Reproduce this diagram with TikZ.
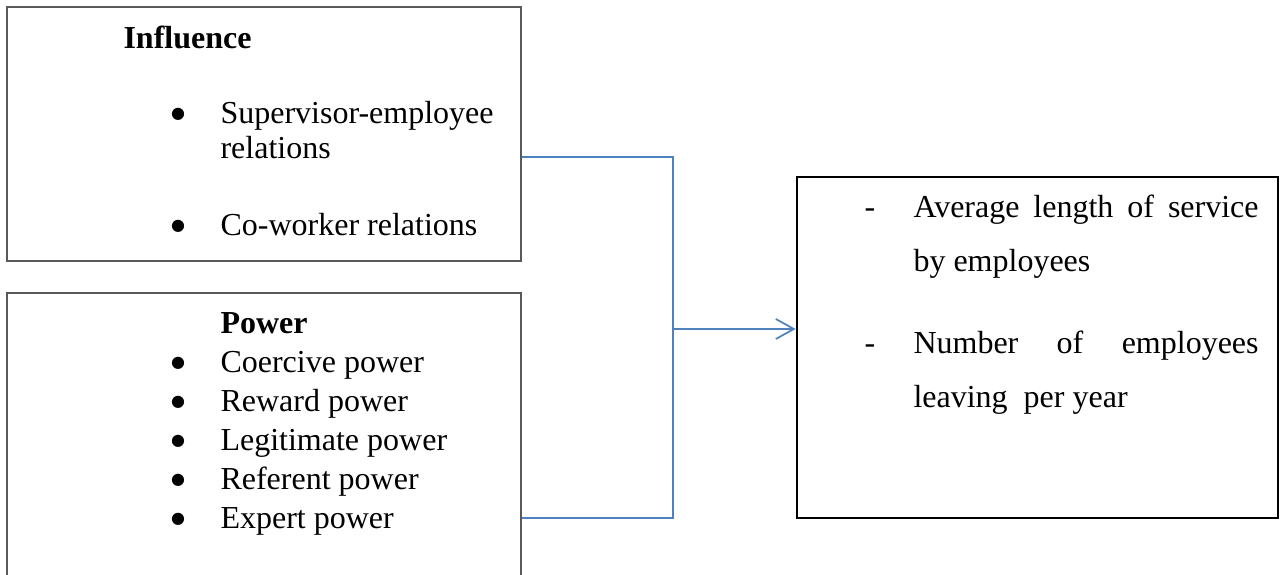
\documentclass[tikz,border=0pt]{standalone}
\usepackage{fontspec}
\setmainfont{Liberation Serif}
\newfontfamily\dotfont{DejaVu Sans}
\usetikzlibrary{arrows.meta}
\definecolor{linkblue}{RGB}{79,129,189}

\begin{document}
\begin{tikzpicture}[
  x=0.375pt, y=-0.375pt,
  box/.style={draw=black!65, line width=0.75pt, rectangle, inner sep=0pt},
  outbox/.style={draw=black, line width=1pt, rectangle, inner sep=0pt},
  heading/.style={anchor=base west, inner sep=0pt, font=\fontsize{12}{14}\selectfont\bfseries},
  bul/.style={anchor=base, inner sep=0pt, align=center, font=\dotfont\fontsize{6}{14.6}\selectfont},
  hyph/.style={anchor=base, inner sep=0pt, font=\fontsize{12}{14}\selectfont},
  entry/.style={anchor=base west, inner sep=0pt, align=left, font=\fontsize{12}{13.1}\selectfont},
  list/.style={entry, font=\fontsize{12}{14.6}\selectfont},
  res/.style={anchor=base west, inner sep=0pt, text width=129.4pt, align=justify,
    font=\fontsize{12}{20.25}\selectfont},
  link/.style={draw=linkblue, line width=0.65pt}
  ]
  \useasboundingbox (0,0) rectangle (1283,575);

  \node (infl) [box, minimum width=192.75pt, minimum height=95.25pt] at (264,134) {};
  \node (pow) [box, minimum width=192.75pt, minimum height=122.6pt] at (264,456.5) {};
  \node (outc) [outbox, minimum width=180.4pt, minimum height=127.9pt] at (1037.5,347.5) {};

  \node (h1) [heading] at (123,48) {Influence};
  \node (b11) [bul] at (178,118) {●};
  \node (e11) [entry] at (220,158) {Supervisor-employee\\relations};
  \node (b12) [bul] at (178,230) {●};
  \node (e12) [entry] at (220,235) {Co-worker relations};

  \node (h2) [heading] at (220,333) {Power};
  \node (b2) [bul] at (178,523) {●\\●\\●\\●\\●};
  \node (e2) [list] at (220,528) {Coercive power\\Reward power\\Legitimate power\\Referent power\\Expert power};

  \node (d1) [hyph] at (870,217) {-};
  \node (r1) [res] at (913,217) {Average length of service by employees};
  \node (d2) [hyph] at (870,353) {-};
  \node (r2) [res] at (913,353) {Number of employees leaving\ \ per year};

  \coordinate (jtop) at (673,157);
  \coordinate (jmid) at (673,329);
  \coordinate (jbot) at (673,518);
  \begin{scope}[link]
    \draw (jtop -| infl.east) -- (jtop) -- (jbot) -- (jbot -| pow.east);
    \draw[-{Straight Barb[length=6.75pt, width=7.5pt]}] (jmid) -- (jmid -| outc.west);
  \end{scope}
\end{tikzpicture}
\end{document}
